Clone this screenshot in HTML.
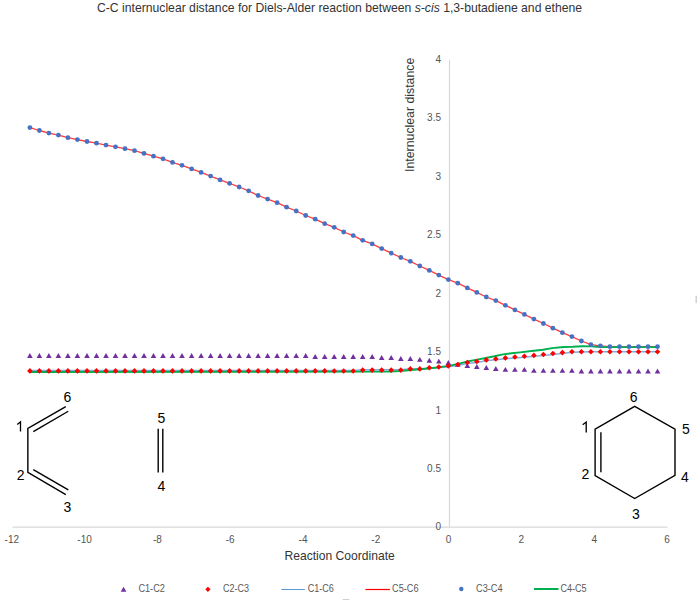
<!DOCTYPE html>
<html><head><meta charset="utf-8"><style>
html,body{margin:0;padding:0;background:#fff;width:697px;height:600px;overflow:hidden}
svg{display:block}
text{font-family:"Liberation Sans",sans-serif}
.tk{font-size:10px;fill:#555}
.ml{font-size:14px;fill:#000}
.ti{font-size:12.2px;fill:#333}
.ax{font-size:12.1px;fill:#333}
.lg{font-size:10px;fill:#595959}
</style></head><body>
<svg width="697" height="600" viewBox="0 0 697 600">
<line x1="12.5" y1="527.2" x2="667.5" y2="527.2" stroke="#d9d9d9" stroke-width="1.2"/>
<line x1="449.5" y1="59.7" x2="449.5" y2="527.2" stroke="#d9d9d9" stroke-width="1.2"/>
<text x="441" y="530.4" text-anchor="end" class="tk">0</text>
<text x="441" y="472.0" text-anchor="end" class="tk">0.5</text>
<text x="441" y="413.5" text-anchor="end" class="tk">1</text>
<text x="441" y="355.1" text-anchor="end" class="tk">1.5</text>
<text x="441" y="296.7" text-anchor="end" class="tk">2</text>
<text x="441" y="238.2" text-anchor="end" class="tk">2.5</text>
<text x="441" y="179.8" text-anchor="end" class="tk">3</text>
<text x="441" y="121.3" text-anchor="end" class="tk">3.5</text>
<text x="441" y="62.9" text-anchor="end" class="tk">4</text>
<text x="11.8" y="542.9" text-anchor="middle" class="tk">-12</text>
<text x="84.6" y="542.9" text-anchor="middle" class="tk">-10</text>
<text x="157.4" y="542.9" text-anchor="middle" class="tk">-8</text>
<text x="230.2" y="542.9" text-anchor="middle" class="tk">-6</text>
<text x="303.0" y="542.9" text-anchor="middle" class="tk">-4</text>
<text x="375.8" y="542.9" text-anchor="middle" class="tk">-2</text>
<text x="448.6" y="542.9" text-anchor="middle" class="tk">0</text>
<text x="521.4" y="542.9" text-anchor="middle" class="tk">2</text>
<text x="594.2" y="542.9" text-anchor="middle" class="tk">4</text>
<text x="667.0" y="542.9" text-anchor="middle" class="tk">6</text>
<polyline points="29.9,370.5 39.4,370.5 48.9,370.5 58.4,370.5 67.9,370.5 77.4,370.5 87.0,370.5 96.5,370.5 106.0,370.5 115.5,370.5 125.0,370.5 134.5,370.5 144.0,370.5 153.5,370.5 163.0,370.5 172.5,370.5 182.0,370.5 191.6,370.5 201.1,370.5 210.6,370.5 220.1,370.5 229.6,370.5 239.1,370.5 248.6,370.5 258.1,370.5 267.6,370.5 277.1,370.5 286.6,370.5 296.2,370.5 305.7,370.5 315.2,370.5 324.7,370.5 334.2,370.6 343.7,370.6 353.2,370.6 362.7,369.7 372.2,369.7 381.7,369.7 391.2,369.7 400.8,369.7 410.3,368.7 419.8,368.9 429.3,368.1 438.8,367.5 448.3,366.7 457.8,365.4 467.3,363.4 476.8,362.4 486.3,360.8 495.8,359.8 505.4,358.8 514.9,357.9 524.4,357.2 533.9,356.3 543.4,355.4 552.9,354.4 562.4,353.5 571.9,352.3 581.4,352.1 590.9,351.8 600.4,351.8 609.9,351.8 619.5,351.8 629.0,351.8 638.5,351.8 648.0,351.8 657.5,351.8" fill="none" stroke="#7fb0df" stroke-width="1.5" stroke-linejoin="round"/>
<polyline points="29.9,127.6 39.4,130.5 48.9,133.1 58.4,135.1 67.9,137.7 77.4,139.6 87.0,141.5 96.5,143.2 106.0,145.1 115.5,146.8 125.0,148.7 134.5,150.7 144.0,153.4 153.5,156.2 163.0,158.8 172.5,162.4 182.0,165.3 191.6,168.9 201.1,172.4 210.6,176.1 220.1,179.9 229.6,183.4 239.1,187.0 248.6,190.8 258.1,195.5 267.6,199.1 277.1,202.7 286.6,207.2 296.2,211.0 305.7,215.5 315.2,219.2 324.7,223.7 334.2,227.3 343.7,232.0 353.2,235.6 362.7,240.3 372.2,243.9 381.7,248.6 391.2,253.1 400.8,257.5 410.3,261.3 419.8,266.0 429.3,270.4 438.8,275.1 448.3,279.6 457.8,283.2 467.3,287.9 476.8,292.4 486.3,297.0 495.8,300.6 505.4,305.3 514.9,309.9 524.4,314.4 533.9,319.1 543.4,323.5 552.9,328.2 562.4,332.7 571.9,336.6 581.4,341.0 590.9,344.7 600.4,345.8 609.9,346.7 619.5,346.7 629.0,346.7 638.5,346.7 648.0,346.7 657.5,346.7" fill="none" stroke="#ff3b3b" stroke-width="1.3" stroke-linejoin="round"/>
<polyline points="29.9,372.0 390.0,371.6 400.0,371.0 414.0,369.8 426.0,368.7 437.0,367.5 449.0,365.9 460.0,363.3 468.6,361.3 477.2,359.6 485.8,358.0 494.4,356.3 503.0,354.4 511.6,353.3 520.0,352.4 531.5,351.0 543.0,349.8 552.1,348.1 563.6,347.0 572.8,346.8 582.0,346.2 591.2,346.4 600.0,347.0 657.5,347.1" fill="none" stroke="#00b050" stroke-width="1.9" stroke-linejoin="round"/>
<path d="M29.9 353.0L32.7 357.9L27.1 357.9Z" fill="#7030a0"/>
<path d="M39.4 353.0L42.2 357.9L36.6 357.9Z" fill="#7030a0"/>
<path d="M48.9 353.0L51.7 357.9L46.1 357.9Z" fill="#7030a0"/>
<path d="M58.4 353.0L61.2 357.9L55.6 357.9Z" fill="#7030a0"/>
<path d="M67.9 353.0L70.7 357.9L65.1 357.9Z" fill="#7030a0"/>
<path d="M77.4 353.0L80.2 357.9L74.6 357.9Z" fill="#7030a0"/>
<path d="M87.0 353.0L89.8 357.9L84.2 357.9Z" fill="#7030a0"/>
<path d="M96.5 353.0L99.3 357.9L93.7 357.9Z" fill="#7030a0"/>
<path d="M106.0 353.0L108.8 357.9L103.2 357.9Z" fill="#7030a0"/>
<path d="M115.5 353.0L118.3 357.9L112.7 357.9Z" fill="#7030a0"/>
<path d="M125.0 353.0L127.8 357.9L122.2 357.9Z" fill="#7030a0"/>
<path d="M134.5 353.0L137.3 357.9L131.7 357.9Z" fill="#7030a0"/>
<path d="M144.0 353.0L146.8 357.9L141.2 357.9Z" fill="#7030a0"/>
<path d="M153.5 353.0L156.3 357.9L150.7 357.9Z" fill="#7030a0"/>
<path d="M163.0 353.0L165.8 357.9L160.2 357.9Z" fill="#7030a0"/>
<path d="M172.5 353.0L175.3 357.9L169.7 357.9Z" fill="#7030a0"/>
<path d="M182.0 353.0L184.8 357.9L179.2 357.9Z" fill="#7030a0"/>
<path d="M191.6 353.0L194.4 357.9L188.8 357.9Z" fill="#7030a0"/>
<path d="M201.1 353.0L203.9 357.9L198.3 357.9Z" fill="#7030a0"/>
<path d="M210.6 353.0L213.4 357.9L207.8 357.9Z" fill="#7030a0"/>
<path d="M220.1 353.0L222.9 357.9L217.3 357.9Z" fill="#7030a0"/>
<path d="M229.6 353.0L232.4 357.9L226.8 357.9Z" fill="#7030a0"/>
<path d="M239.1 353.0L241.9 357.9L236.3 357.9Z" fill="#7030a0"/>
<path d="M248.6 353.0L251.4 357.9L245.8 357.9Z" fill="#7030a0"/>
<path d="M258.1 353.0L260.9 357.9L255.3 357.9Z" fill="#7030a0"/>
<path d="M267.6 353.0L270.4 357.9L264.8 357.9Z" fill="#7030a0"/>
<path d="M277.1 353.0L279.9 357.9L274.3 357.9Z" fill="#7030a0"/>
<path d="M286.6 353.0L289.4 357.9L283.8 357.9Z" fill="#7030a0"/>
<path d="M296.2 353.0L299.0 357.9L293.4 357.9Z" fill="#7030a0"/>
<path d="M305.7 353.0L308.5 357.9L302.9 357.9Z" fill="#7030a0"/>
<path d="M315.2 354.1L318.0 359.0L312.4 359.0Z" fill="#7030a0"/>
<path d="M324.7 354.1L327.5 359.0L321.9 359.0Z" fill="#7030a0"/>
<path d="M334.2 354.1L337.0 359.0L331.4 359.0Z" fill="#7030a0"/>
<path d="M343.7 354.1L346.5 359.0L340.9 359.0Z" fill="#7030a0"/>
<path d="M353.2 354.1L356.0 359.0L350.4 359.0Z" fill="#7030a0"/>
<path d="M362.7 354.1L365.5 359.0L359.9 359.0Z" fill="#7030a0"/>
<path d="M372.2 354.1L375.0 359.0L369.4 359.0Z" fill="#7030a0"/>
<path d="M381.7 355.1L384.5 360.0L378.9 360.0Z" fill="#7030a0"/>
<path d="M391.2 355.1L394.0 360.0L388.4 360.0Z" fill="#7030a0"/>
<path d="M400.8 356.0L403.6 360.9L398.0 360.9Z" fill="#7030a0"/>
<path d="M410.3 356.0L413.1 360.9L407.5 360.9Z" fill="#7030a0"/>
<path d="M419.8 356.9L422.6 361.8L417.0 361.8Z" fill="#7030a0"/>
<path d="M429.3 357.8L432.1 362.7L426.5 362.7Z" fill="#7030a0"/>
<path d="M438.8 358.7L441.6 363.6L436.0 363.6Z" fill="#7030a0"/>
<path d="M448.3 360.1L451.1 365.0L445.5 365.0Z" fill="#7030a0"/>
<path d="M457.8 361.9L460.6 366.8L455.0 366.8Z" fill="#7030a0"/>
<path d="M467.3 363.1L470.1 368.0L464.5 368.0Z" fill="#7030a0"/>
<path d="M476.8 364.0L479.6 368.9L474.0 368.9Z" fill="#7030a0"/>
<path d="M486.3 365.0L489.1 369.9L483.5 369.9Z" fill="#7030a0"/>
<path d="M495.8 366.1L498.6 371.0L493.0 371.0Z" fill="#7030a0"/>
<path d="M505.4 366.9L508.2 371.8L502.6 371.8Z" fill="#7030a0"/>
<path d="M514.9 366.9L517.7 371.8L512.1 371.8Z" fill="#7030a0"/>
<path d="M524.4 366.9L527.2 371.8L521.6 371.8Z" fill="#7030a0"/>
<path d="M533.9 367.9L536.7 372.8L531.1 372.8Z" fill="#7030a0"/>
<path d="M543.4 367.9L546.2 372.8L540.6 372.8Z" fill="#7030a0"/>
<path d="M552.9 367.9L555.7 372.8L550.1 372.8Z" fill="#7030a0"/>
<path d="M562.4 367.9L565.2 372.8L559.6 372.8Z" fill="#7030a0"/>
<path d="M571.9 367.9L574.7 372.8L569.1 372.8Z" fill="#7030a0"/>
<path d="M581.4 368.5L584.2 373.4L578.6 373.4Z" fill="#7030a0"/>
<path d="M590.9 368.5L593.7 373.4L588.1 373.4Z" fill="#7030a0"/>
<path d="M600.4 368.5L603.2 373.4L597.6 373.4Z" fill="#7030a0"/>
<path d="M609.9 368.5L612.7 373.4L607.1 373.4Z" fill="#7030a0"/>
<path d="M619.5 368.5L622.3 373.4L616.7 373.4Z" fill="#7030a0"/>
<path d="M629.0 368.5L631.8 373.4L626.2 373.4Z" fill="#7030a0"/>
<path d="M638.5 368.5L641.3 373.4L635.7 373.4Z" fill="#7030a0"/>
<path d="M648.0 368.5L650.8 373.4L645.2 373.4Z" fill="#7030a0"/>
<path d="M657.5 368.5L660.3 373.4L654.7 373.4Z" fill="#7030a0"/>
<path d="M29.9 368.1L32.7 370.9L29.9 373.7L27.1 370.9Z" fill="#ff0000"/>
<path d="M39.4 368.1L42.2 370.9L39.4 373.7L36.6 370.9Z" fill="#ff0000"/>
<path d="M48.9 368.1L51.7 370.9L48.9 373.7L46.1 370.9Z" fill="#ff0000"/>
<path d="M58.4 368.1L61.2 370.9L58.4 373.7L55.6 370.9Z" fill="#ff0000"/>
<path d="M67.9 368.1L70.7 370.9L67.9 373.7L65.1 370.9Z" fill="#ff0000"/>
<path d="M77.4 368.1L80.2 370.9L77.4 373.7L74.6 370.9Z" fill="#ff0000"/>
<path d="M87.0 368.1L89.8 370.9L87.0 373.7L84.2 370.9Z" fill="#ff0000"/>
<path d="M96.5 368.1L99.3 370.9L96.5 373.7L93.7 370.9Z" fill="#ff0000"/>
<path d="M106.0 368.1L108.8 370.9L106.0 373.7L103.2 370.9Z" fill="#ff0000"/>
<path d="M115.5 368.1L118.3 370.9L115.5 373.7L112.7 370.9Z" fill="#ff0000"/>
<path d="M125.0 368.1L127.8 370.9L125.0 373.7L122.2 370.9Z" fill="#ff0000"/>
<path d="M134.5 368.1L137.3 370.9L134.5 373.7L131.7 370.9Z" fill="#ff0000"/>
<path d="M144.0 368.1L146.8 370.9L144.0 373.7L141.2 370.9Z" fill="#ff0000"/>
<path d="M153.5 368.1L156.3 370.9L153.5 373.7L150.7 370.9Z" fill="#ff0000"/>
<path d="M163.0 368.1L165.8 370.9L163.0 373.7L160.2 370.9Z" fill="#ff0000"/>
<path d="M172.5 368.1L175.3 370.9L172.5 373.7L169.7 370.9Z" fill="#ff0000"/>
<path d="M182.0 368.1L184.8 370.9L182.0 373.7L179.2 370.9Z" fill="#ff0000"/>
<path d="M191.6 368.1L194.4 370.9L191.6 373.7L188.8 370.9Z" fill="#ff0000"/>
<path d="M201.1 368.1L203.9 370.9L201.1 373.7L198.3 370.9Z" fill="#ff0000"/>
<path d="M210.6 368.1L213.4 370.9L210.6 373.7L207.8 370.9Z" fill="#ff0000"/>
<path d="M220.1 368.1L222.9 370.9L220.1 373.7L217.3 370.9Z" fill="#ff0000"/>
<path d="M229.6 368.1L232.4 370.9L229.6 373.7L226.8 370.9Z" fill="#ff0000"/>
<path d="M239.1 368.1L241.9 370.9L239.1 373.7L236.3 370.9Z" fill="#ff0000"/>
<path d="M248.6 368.1L251.4 370.9L248.6 373.7L245.8 370.9Z" fill="#ff0000"/>
<path d="M258.1 368.1L260.9 370.9L258.1 373.7L255.3 370.9Z" fill="#ff0000"/>
<path d="M267.6 368.1L270.4 370.9L267.6 373.7L264.8 370.9Z" fill="#ff0000"/>
<path d="M277.1 368.1L279.9 370.9L277.1 373.7L274.3 370.9Z" fill="#ff0000"/>
<path d="M286.6 368.1L289.4 370.9L286.6 373.7L283.8 370.9Z" fill="#ff0000"/>
<path d="M296.2 368.1L299.0 370.9L296.2 373.7L293.4 370.9Z" fill="#ff0000"/>
<path d="M305.7 368.1L308.5 370.9L305.7 373.7L302.9 370.9Z" fill="#ff0000"/>
<path d="M315.2 368.1L318.0 370.9L315.2 373.7L312.4 370.9Z" fill="#ff0000"/>
<path d="M324.7 368.1L327.5 370.9L324.7 373.7L321.9 370.9Z" fill="#ff0000"/>
<path d="M334.2 368.2L337.0 371.0L334.2 373.8L331.4 371.0Z" fill="#ff0000"/>
<path d="M343.7 368.2L346.5 371.0L343.7 373.8L340.9 371.0Z" fill="#ff0000"/>
<path d="M353.2 368.2L356.0 371.0L353.2 373.8L350.4 371.0Z" fill="#ff0000"/>
<path d="M362.7 367.3L365.5 370.1L362.7 372.9L359.9 370.1Z" fill="#ff0000"/>
<path d="M372.2 367.3L375.0 370.1L372.2 372.9L369.4 370.1Z" fill="#ff0000"/>
<path d="M381.7 367.3L384.5 370.1L381.7 372.9L378.9 370.1Z" fill="#ff0000"/>
<path d="M391.2 367.3L394.0 370.1L391.2 372.9L388.4 370.1Z" fill="#ff0000"/>
<path d="M400.8 367.3L403.6 370.1L400.8 372.9L398.0 370.1Z" fill="#ff0000"/>
<path d="M410.3 366.1L413.1 368.9L410.3 371.7L407.5 368.9Z" fill="#ff0000"/>
<path d="M419.8 366.1L422.6 368.9L419.8 371.7L417.0 368.9Z" fill="#ff0000"/>
<path d="M429.3 365.0L432.1 367.8L429.3 370.6L426.5 367.8Z" fill="#ff0000"/>
<path d="M438.8 364.2L441.6 367.0L438.8 369.8L436.0 367.0Z" fill="#ff0000"/>
<path d="M448.3 363.2L451.1 366.0L448.3 368.8L445.5 366.0Z" fill="#ff0000"/>
<path d="M457.8 361.7L460.6 364.5L457.8 367.3L455.0 364.5Z" fill="#ff0000"/>
<path d="M467.3 359.7L470.1 362.5L467.3 365.3L464.5 362.5Z" fill="#ff0000"/>
<path d="M476.8 358.7L479.6 361.5L476.8 364.3L474.0 361.5Z" fill="#ff0000"/>
<path d="M486.3 357.1L489.1 359.9L486.3 362.7L483.5 359.9Z" fill="#ff0000"/>
<path d="M495.8 356.1L498.6 358.9L495.8 361.7L493.0 358.9Z" fill="#ff0000"/>
<path d="M505.4 355.1L508.2 357.9L505.4 360.7L502.6 357.9Z" fill="#ff0000"/>
<path d="M514.9 354.2L517.7 357.0L514.9 359.8L512.1 357.0Z" fill="#ff0000"/>
<path d="M524.4 353.5L527.2 356.3L524.4 359.1L521.6 356.3Z" fill="#ff0000"/>
<path d="M533.9 352.6L536.7 355.4L533.9 358.2L531.1 355.4Z" fill="#ff0000"/>
<path d="M543.4 351.7L546.2 354.5L543.4 357.3L540.6 354.5Z" fill="#ff0000"/>
<path d="M552.9 350.7L555.7 353.5L552.9 356.3L550.1 353.5Z" fill="#ff0000"/>
<path d="M562.4 349.8L565.2 352.6L562.4 355.4L559.6 352.6Z" fill="#ff0000"/>
<path d="M571.9 348.9L574.7 351.7L571.9 354.5L569.1 351.7Z" fill="#ff0000"/>
<path d="M581.4 348.9L584.2 351.7L581.4 354.5L578.6 351.7Z" fill="#ff0000"/>
<path d="M590.9 348.9L593.7 351.7L590.9 354.5L588.1 351.7Z" fill="#ff0000"/>
<path d="M600.4 348.9L603.2 351.7L600.4 354.5L597.6 351.7Z" fill="#ff0000"/>
<path d="M609.9 348.9L612.7 351.7L609.9 354.5L607.1 351.7Z" fill="#ff0000"/>
<path d="M619.5 348.9L622.3 351.7L619.5 354.5L616.7 351.7Z" fill="#ff0000"/>
<path d="M629.0 348.9L631.8 351.7L629.0 354.5L626.2 351.7Z" fill="#ff0000"/>
<path d="M638.5 348.9L641.3 351.7L638.5 354.5L635.7 351.7Z" fill="#ff0000"/>
<path d="M648.0 348.9L650.8 351.7L648.0 354.5L645.2 351.7Z" fill="#ff0000"/>
<path d="M657.5 348.9L660.3 351.7L657.5 354.5L654.7 351.7Z" fill="#ff0000"/>
<circle cx="29.9" cy="127.6" r="2.4" fill="#4472c4"/>
<circle cx="39.4" cy="130.5" r="2.4" fill="#4472c4"/>
<circle cx="48.9" cy="133.1" r="2.4" fill="#4472c4"/>
<circle cx="58.4" cy="135.1" r="2.4" fill="#4472c4"/>
<circle cx="67.9" cy="137.7" r="2.4" fill="#4472c4"/>
<circle cx="77.4" cy="139.6" r="2.4" fill="#4472c4"/>
<circle cx="87.0" cy="141.5" r="2.4" fill="#4472c4"/>
<circle cx="96.5" cy="143.2" r="2.4" fill="#4472c4"/>
<circle cx="106.0" cy="145.1" r="2.4" fill="#4472c4"/>
<circle cx="115.5" cy="146.8" r="2.4" fill="#4472c4"/>
<circle cx="125.0" cy="148.7" r="2.4" fill="#4472c4"/>
<circle cx="134.5" cy="150.7" r="2.4" fill="#4472c4"/>
<circle cx="144.0" cy="153.4" r="2.4" fill="#4472c4"/>
<circle cx="153.5" cy="156.2" r="2.4" fill="#4472c4"/>
<circle cx="163.0" cy="158.8" r="2.4" fill="#4472c4"/>
<circle cx="172.5" cy="162.4" r="2.4" fill="#4472c4"/>
<circle cx="182.0" cy="165.3" r="2.4" fill="#4472c4"/>
<circle cx="191.6" cy="168.9" r="2.4" fill="#4472c4"/>
<circle cx="201.1" cy="172.4" r="2.4" fill="#4472c4"/>
<circle cx="210.6" cy="176.1" r="2.4" fill="#4472c4"/>
<circle cx="220.1" cy="179.9" r="2.4" fill="#4472c4"/>
<circle cx="229.6" cy="183.4" r="2.4" fill="#4472c4"/>
<circle cx="239.1" cy="187.0" r="2.4" fill="#4472c4"/>
<circle cx="248.6" cy="190.8" r="2.4" fill="#4472c4"/>
<circle cx="258.1" cy="195.5" r="2.4" fill="#4472c4"/>
<circle cx="267.6" cy="199.1" r="2.4" fill="#4472c4"/>
<circle cx="277.1" cy="202.7" r="2.4" fill="#4472c4"/>
<circle cx="286.6" cy="207.2" r="2.4" fill="#4472c4"/>
<circle cx="296.2" cy="211.0" r="2.4" fill="#4472c4"/>
<circle cx="305.7" cy="215.5" r="2.4" fill="#4472c4"/>
<circle cx="315.2" cy="219.2" r="2.4" fill="#4472c4"/>
<circle cx="324.7" cy="223.7" r="2.4" fill="#4472c4"/>
<circle cx="334.2" cy="227.3" r="2.4" fill="#4472c4"/>
<circle cx="343.7" cy="232.0" r="2.4" fill="#4472c4"/>
<circle cx="353.2" cy="235.6" r="2.4" fill="#4472c4"/>
<circle cx="362.7" cy="240.3" r="2.4" fill="#4472c4"/>
<circle cx="372.2" cy="243.9" r="2.4" fill="#4472c4"/>
<circle cx="381.7" cy="248.6" r="2.4" fill="#4472c4"/>
<circle cx="391.2" cy="253.1" r="2.4" fill="#4472c4"/>
<circle cx="400.8" cy="257.5" r="2.4" fill="#4472c4"/>
<circle cx="410.3" cy="261.3" r="2.4" fill="#4472c4"/>
<circle cx="419.8" cy="266.0" r="2.4" fill="#4472c4"/>
<circle cx="429.3" cy="270.4" r="2.4" fill="#4472c4"/>
<circle cx="438.8" cy="275.1" r="2.4" fill="#4472c4"/>
<circle cx="448.3" cy="279.6" r="2.4" fill="#4472c4"/>
<circle cx="457.8" cy="283.2" r="2.4" fill="#4472c4"/>
<circle cx="467.3" cy="287.9" r="2.4" fill="#4472c4"/>
<circle cx="476.8" cy="292.4" r="2.4" fill="#4472c4"/>
<circle cx="486.3" cy="297.0" r="2.4" fill="#4472c4"/>
<circle cx="495.8" cy="300.6" r="2.4" fill="#4472c4"/>
<circle cx="505.4" cy="305.3" r="2.4" fill="#4472c4"/>
<circle cx="514.9" cy="309.9" r="2.4" fill="#4472c4"/>
<circle cx="524.4" cy="314.4" r="2.4" fill="#4472c4"/>
<circle cx="533.9" cy="319.1" r="2.4" fill="#4472c4"/>
<circle cx="543.4" cy="323.5" r="2.4" fill="#4472c4"/>
<circle cx="552.9" cy="328.2" r="2.4" fill="#4472c4"/>
<circle cx="562.4" cy="332.7" r="2.4" fill="#4472c4"/>
<circle cx="571.9" cy="336.6" r="2.4" fill="#4472c4"/>
<circle cx="581.4" cy="341.0" r="2.4" fill="#4472c4"/>
<circle cx="590.9" cy="344.7" r="2.4" fill="#4472c4"/>
<circle cx="600.4" cy="345.8" r="2.4" fill="#4472c4"/>
<circle cx="609.9" cy="346.7" r="2.4" fill="#4472c4"/>
<circle cx="619.5" cy="346.7" r="2.4" fill="#4472c4"/>
<circle cx="629.0" cy="346.7" r="2.4" fill="#4472c4"/>
<circle cx="638.5" cy="346.7" r="2.4" fill="#4472c4"/>
<circle cx="648.0" cy="346.7" r="2.4" fill="#4472c4"/>
<circle cx="657.5" cy="346.7" r="2.4" fill="#4472c4"/>
<polyline points="65.8,406.6 27.85,428.4 27.85,472.4 65.8,494.6" stroke="#000" stroke-width="1.4" fill="none" stroke-linecap="butt" stroke-linejoin="miter"/>
<line x1="33.3" y1="431.7" x2="68.3" y2="411.25" stroke="#000" stroke-width="1.4" fill="none" stroke-linecap="butt" stroke-linejoin="miter"/>
<line x1="33.3" y1="469.7" x2="68.3" y2="489.9" stroke="#000" stroke-width="1.4" fill="none" stroke-linecap="butt" stroke-linejoin="miter"/>
<line x1="158.2" y1="428.7" x2="158.2" y2="472.5" stroke="#000" stroke-width="1.4" fill="none" stroke-linecap="butt" stroke-linejoin="miter"/>
<line x1="162.8" y1="428.7" x2="162.8" y2="472.5" stroke="#000" stroke-width="1.4" fill="none" stroke-linecap="butt" stroke-linejoin="miter"/>
<polygon points="634.7,406.3 675.0,429.2 675.0,475.4 634.7,498.5 595.1,475.5 595.1,429.2" stroke="#000" stroke-width="1.4" fill="none" stroke-linecap="butt" stroke-linejoin="miter"/>
<line x1="600.9" y1="432.3" x2="600.9" y2="472.2" stroke="#000" stroke-width="1.4" fill="none" stroke-linecap="butt" stroke-linejoin="miter"/>
<text x="67.4" y="401.9" text-anchor="middle" class="ml">6</text>
<text x="20.6" y="480.1" text-anchor="middle" class="ml">2</text>
<text x="67.4" y="512.2" text-anchor="middle" class="ml">3</text>
<text x="161.4" y="422.8" text-anchor="middle" class="ml">5</text>
<text x="161.3" y="490.8" text-anchor="middle" class="ml">4</text>
<text x="633.6" y="401.5" text-anchor="middle" class="ml">6</text>
<text x="585.3" y="479.0" text-anchor="middle" class="ml">2</text>
<text x="635.8" y="519.2" text-anchor="middle" class="ml">3</text>
<text x="684.9" y="482.4" text-anchor="middle" class="ml">4</text>
<text x="686.0" y="434.0" text-anchor="middle" class="ml">5</text>
<path d="M20.5 431.6V421.9L17.2 424.4" stroke="#000" stroke-width="1.3" fill="none"/>
<path d="M586.2 432.4V422.0L582.7 424.7" stroke="#000" stroke-width="1.35" fill="none"/>
<text x="97" y="11.9" class="ti">C-C internuclear distance for Diels-Alder reaction between <tspan font-style="italic">s-cis</tspan> 1,3-butadiene and ethene</text>
<text x="284.5" y="559.7" class="ax">Reaction Coordinate</text>
<text transform="translate(413.6,171.9) rotate(-90)" class="ax" style="font-size:12.3px">Internuclear distance</text>
<path d="M123.5 586.7L126.4 591.7L120.7 591.7Z" fill="#7030a0"/>
<path d="M207.9 586.7L210.5 589.3L207.9 591.9L205.3 589.3Z" fill="#ff0000"/>
<line x1="281.3" y1="589.5" x2="304.9" y2="589.5" stroke="#5b9bd5" stroke-width="1"/>
<line x1="365.4" y1="589.5" x2="389.9" y2="589.5" stroke="#ff0000" stroke-width="1.2"/>
<circle cx="461.3" cy="589" r="2.2" fill="#4472c4"/>
<line x1="534" y1="589" x2="558.5" y2="589" stroke="#00b050" stroke-width="2"/>
<text x="138.4" y="592" class="lg" textLength="26.5" lengthAdjust="spacingAndGlyphs">C1-C2</text>
<text x="223.1" y="592" class="lg" textLength="26.0" lengthAdjust="spacingAndGlyphs">C2-C3</text>
<text x="307.7" y="592" class="lg" textLength="26.2" lengthAdjust="spacingAndGlyphs">C1-C6</text>
<text x="392.1" y="592" class="lg" textLength="26.4" lengthAdjust="spacingAndGlyphs">C5-C6</text>
<text x="476.1" y="592" class="lg" textLength="26.5" lengthAdjust="spacingAndGlyphs">C3-C4</text>
<text x="560.5" y="592" class="lg" textLength="26.1" lengthAdjust="spacingAndGlyphs">C4-C5</text>
<rect x="695.5" y="295.7" width="2" height="7.3" fill="#d0d0d0"/>
<rect x="342.8" y="599" width="6.5" height="1" fill="#d0d0d0"/>
</svg>
</body></html>
